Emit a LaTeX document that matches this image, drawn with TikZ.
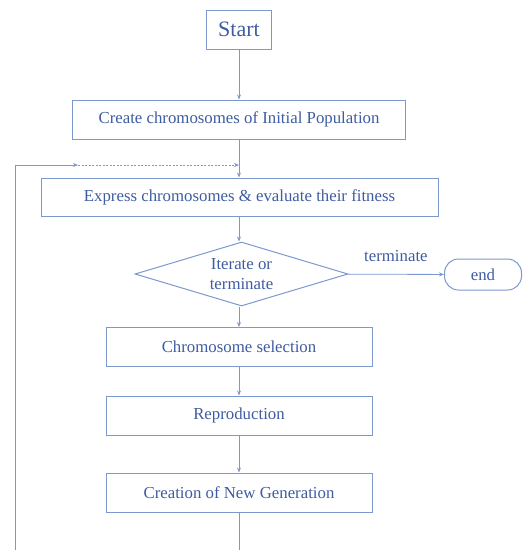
\documentclass[tikz,border=0pt]{standalone}
\usepackage{fontspec}
\setmainfont{Liberation Serif}
\usetikzlibrary{shapes.geometric,arrows.meta}
\definecolor{ln}{RGB}{125,152,204}
\definecolor{tx}{RGB}{62,92,160}
\begin{document}
\begin{tikzpicture}[x=1pt,y=-1pt,
  box/.style={draw=ln,line width=1pt,text=tx,font=\fontsize{16.8}{19}\selectfont,inner sep=0pt,minimum height=39pt},
  arr/.style={draw=ln,line width=0.8pt,-{Stealth[length=5pt,width=4pt]}},
  plain/.style={draw=ln,line width=0.8pt}]
\useasboundingbox (0,0) rectangle (524,550);
\node[box,minimum width=65pt,font=\fontsize{22}{24}\selectfont] (start) at (239,29.5) {Start};
\node[box,minimum width=333pt] (create) at (239,119.5) {Create chromosomes of Initial Population};
\node[box,minimum width=397pt,minimum height=38pt] (express) at (239.5,197) {Express chromosomes \& evaluate their fitness};
\node[diamond,aspect=3.33,draw=ln,line width=1pt,text=tx,font=\fontsize{16.8}{20}\selectfont,align=center,minimum width=213pt,minimum height=64pt,inner sep=0pt] (dec) at (241.5,274) {Iterate or\\terminate};
\node[draw=ln,line width=1pt,rounded corners=14pt,text=tx,font=\fontsize{16.8}{19}\selectfont,minimum width=77pt,minimum height=31pt,inner sep=0pt] (end) at (483,274.5) {end};
\node[box,minimum width=266pt] (sel) at (239,347) {Chromosome selection};
\node[box,minimum width=266pt] (rep) at (239,415.5) {Reproduction};
\node[box,minimum width=266pt] (gen) at (239,492.5) {Creation of New Generation};
\coordinate (bot) at (239,550);
\coordinate (bl) at (15,550);
\coordinate (tl) at (15,165);
\coordinate (mid) at (78,165);
\coordinate (tr) at (239,165);
\draw[arr] (start) -- (create);
\draw[plain] (create) -- (tr);
\draw[arr] (tr) -- (tr |- express.north);
\draw[arr] (tr |- express.south) -- (tr |- dec.north);
\draw[arr] (tr |- dec.south) -- (sel.north);
\draw[arr] (sel) -- (rep);
\draw[arr] (rep) -- (gen);
\draw[plain] (gen) -- (bot);
\draw[arr] (bl) -- (tl) -- (mid);
\draw[arr,dash pattern=on 2pt off 1.5pt] (mid) -- (tr);
\draw[arr] (dec) -- node[above=9pt,text=tx,font=\fontsize{16.8}{19}\selectfont]{terminate} (end);
\end{tikzpicture}
\end{document}
